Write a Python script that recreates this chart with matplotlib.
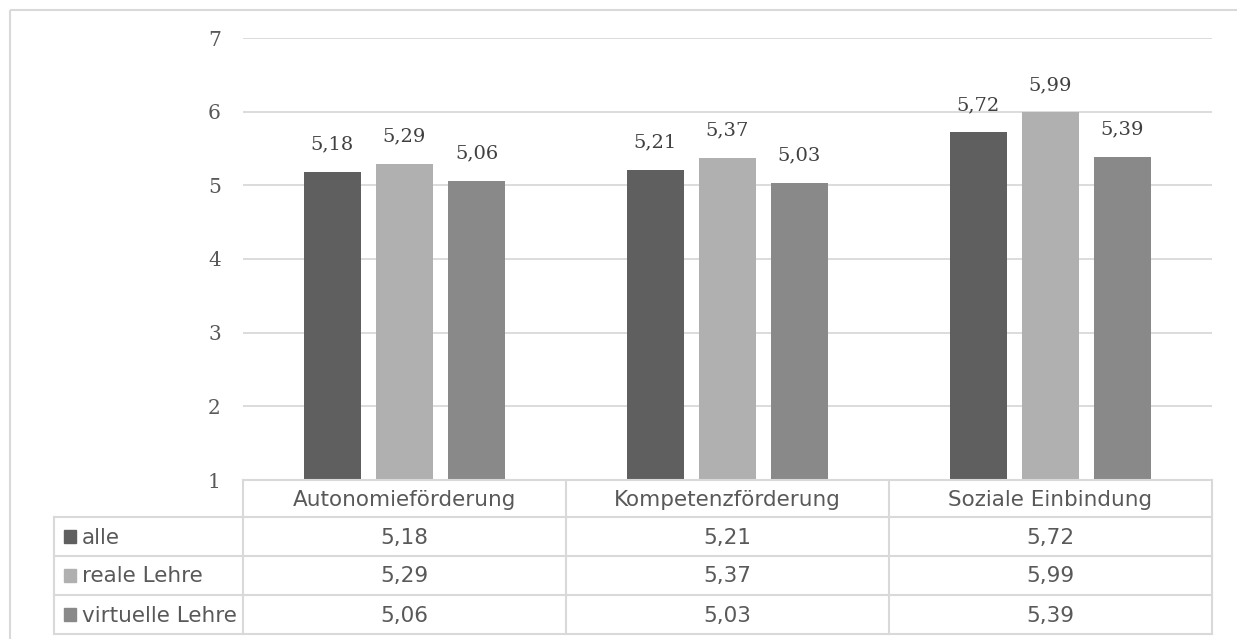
import numpy as np
import matplotlib.pyplot as plt
from matplotlib.patches import Rectangle

# data
categories = ["Autonomieförderung", "Kompetenzförderung", "Soziale Einbindung"]
series = ["alle", "reale Lehre", "virtuelle Lehre"]
alle = [5.18, 5.21, 5.72]
reale = [5.29, 5.37, 5.99]
virtuelle = [5.06, 5.03, 5.39]
values = [alle, reale, virtuelle]
yticks = [1, 2, 3, 4, 5, 6, 7]

# style
COLORS = ["#5f5f5f", "#b0b0b0", "#898989"]
GRID = "#d9d9d9"
TEXT = "#595959"
SERIF = "DejaVu Serif"
SANS = "DejaVu Sans"

W, H = 1237, 639
fig = plt.figure(figsize=(W / 100, H / 100), dpi=100)

# plot area in pixel coords
px_l, px_r, px_t, px_b = 243, 1212, 38, 480
ax = fig.add_axes([px_l / W, 1 - px_b / H, (px_r - px_l) / W, (px_b - px_t) / H])

x = np.arange(len(categories))
width = 0.176
offset = 0.223
for i, (vals, color) in enumerate(zip(values, COLORS)):
    pos = x + (i - 1) * offset
    ax.bar(pos, np.array(vals) - 1, bottom=1, width=width, color=color, zorder=3)
    for p, v in zip(pos, vals):
        ax.text(p, v + 0.25, f"{v:.2f}".replace(".", ","), ha="center", va="bottom",
                fontsize=14, family=SERIF, color="#404040")

ax.set_xlim(-0.5, len(categories) - 0.5)
ax.set_ylim(1, 7)
ax.set_yticks(yticks)
ax.set_yticklabels([str(t) for t in yticks], fontsize=14.5, family=SERIF, color=TEXT)
ax.tick_params(axis="y", length=0, pad=16)
ax.set_xticks([])
ax.grid(axis="y", color=GRID, linewidth=1.3, zorder=0)
for s in ax.spines.values():
    s.set_visible(False)

# table and frame on a pixel-coordinate overlay
ov = fig.add_axes([0, 0, 1, 1], zorder=5)
ov.set_xlim(0, W)
ov.set_ylim(H, 0)
ov.axis("off")
ov.patch.set_alpha(0)

ov.add_patch(Rectangle((10, 10), W + 20, H + 20, fill=False, edgecolor=GRID, linewidth=1.5))

col_edges = np.linspace(px_l, px_r, len(categories) + 1)
row_edges = [480, 517, 556, 595, 634]
leg_l = 54
lw = 1.5

# horizontal lines
ov.plot([px_l, px_r], [row_edges[0]] * 2, color=GRID, lw=lw)
for y in row_edges[1:]:
    ov.plot([leg_l, px_r], [y, y], color=GRID, lw=lw)
# vertical lines
ov.plot([leg_l, leg_l], [row_edges[1], row_edges[-1]], color=GRID, lw=lw)
for xe in col_edges:
    ov.plot([xe, xe], [row_edges[0], row_edges[-1]], color=GRID, lw=lw)

FS = 15.5
# header
for j, cat in enumerate(categories):
    cx = (col_edges[j] + col_edges[j + 1]) / 2
    ov.text(cx, (row_edges[0] + row_edges[1]) / 2 + 1, cat, ha="center", va="center",
            fontsize=FS, family=SANS, color=TEXT)

# rows
for i, (name, vals, color) in enumerate(zip(series, values, COLORS)):
    cy = (row_edges[i + 1] + row_edges[i + 2]) / 2
    ov.add_patch(Rectangle((64, cy - 6.5), 12, 13, color=color))
    ov.text(82, cy + 1, name, ha="left", va="center", fontsize=FS, family=SANS, color=TEXT)
    for j, v in enumerate(vals):
        cx = (col_edges[j] + col_edges[j + 1]) / 2
        ov.text(cx, cy + 1, f"{v:.2f}".replace(".", ","), ha="center", va="center",
                fontsize=FS, family=SANS, color=TEXT)

fig.savefig("out.png", dpi=100)
